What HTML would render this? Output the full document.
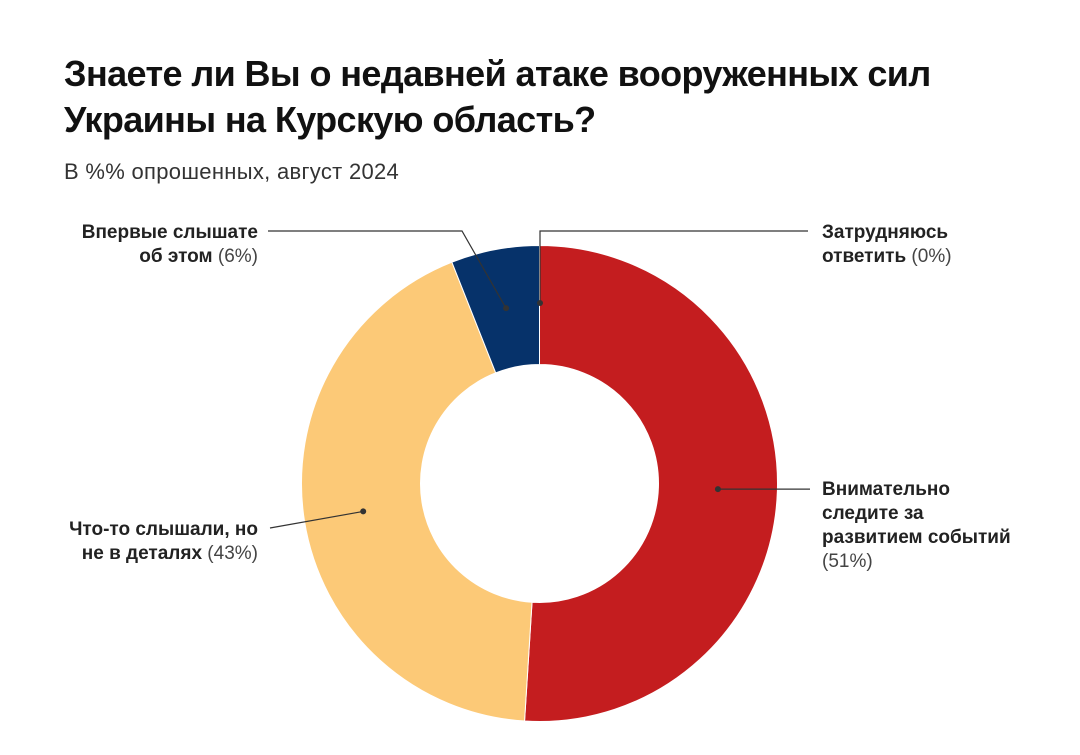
<!DOCTYPE html>
<html><head><meta charset="utf-8"><style>
body{margin:0;background:#fff;font-family:"Liberation Sans",Arial,sans-serif;}
#wrap{position:relative;width:1080px;height:755px;overflow:hidden;}
h1{position:absolute;left:64px;top:51px;margin:0;font-size:36px;line-height:46px;font-weight:bold;color:#111;letter-spacing:-0.6px;}
.sub{position:absolute;left:64px;top:159px;font-size:22px;color:#333;letter-spacing:0.3px;}
svg{position:absolute;left:0;top:0;}
</style></head><body>
<div id="wrap">
<h1>Знаете ли Вы о недавней атаке вооруженных сил<br>Украины на Курскую область?</h1>
<div class="sub">В %% опрошенных, август 2024</div>
<svg id="chart" width="1080" height="755"></svg>
</div>
<script>
const categories=["Внимательно следите за развитием событий","Что-то слышали, но не в деталях","Впервые слышате об этом","Затрудняюсь ответить"];
const values=[51,43,6,0];
const colors=["#c41d1f","#fcc977","#06326a","#888"];
const NS="http://www.w3.org/2000/svg";
const svg=document.getElementById('chart');
const cx=539.5,cy=483.5,R=238,r=119;
const total=values.reduce((a,b)=>a+b,0);
function pt(a,rad){return [cx+rad*Math.sin(a),cy-rad*Math.cos(a)];}
let acc=0;const mids=[];
values.forEach((v,i)=>{
  const a0=acc/total*2*Math.PI;acc+=v;const a1=acc/total*2*Math.PI;
  mids.push((a0+a1)/2);
  if(v<=0)return;
  const large=(a1-a0)>Math.PI?1:0;
  const p0=pt(a0,R),p1=pt(a1,R),q1=pt(a1,r),q0=pt(a0,r);
  const p=document.createElementNS(NS,'path');
  p.setAttribute('d',`M${p0}A${R},${R} 0 ${large} 1 ${p1}L${q1}A${r},${r} 0 ${large} 0 ${q0}Z`);
  p.setAttribute('fill',colors[i]);p.setAttribute('stroke','#fff');p.setAttribute('stroke-width','1');
  
  
  svg.appendChild(p);
});
const labels=[
 {lines:[["Внимательно",""],["следите за",""],["развитием событий",""],["","("+values[0]+"%)"]],x:822,y:495,anchor:"start",path:i=>{const d=pt(mids[0],(R+r)/2);return [d,[[810,d[1]]]]}},
 {lines:[["Что-то слышали, но",""],["не в деталях"," ("+values[1]+"%)"]],x:258,y:535,anchor:"end",path:i=>{const d=pt(mids[1],(R+r)/2);return [d,[[270,528]]]}},
 {lines:[["Впервые слышате",""],["об этом"," ("+values[2]+"%)"]],x:258,y:238,anchor:"end",path:i=>{const d=pt(mids[2],(R+r)/2);return [d,[[462,231],[268,231]]]}},
 {lines:[["Затрудняюсь",""],["ответить"," ("+values[3]+"%)"]],x:822,y:238,anchor:"start",path:i=>{const d=[cx+0.5,303];return [d,[[540,231],[808,231]]]}}
];
labels.forEach((L,i)=>{
  const [d,pts]=L.path(i);
  const pl=document.createElementNS(NS,'polyline');
  pl.setAttribute('points',[d,...pts].map(p=>p.join(',')).join(' '));
  pl.setAttribute('fill','none');pl.setAttribute('stroke','#333');pl.setAttribute('stroke-width','1.2');
  
  
  svg.appendChild(pl);
  const c=document.createElementNS(NS,'circle');
  c.setAttribute('cx',d[0]);c.setAttribute('cy',d[1]);c.setAttribute('r',3);c.setAttribute('fill','#333');
  
  
  svg.appendChild(c);
  const t=document.createElementNS(NS,'text');
  t.setAttribute('text-anchor',L.anchor);t.setAttribute('font-size','19');t.setAttribute('fill','#222');
  
  
  L.lines.forEach((ln,k)=>{
    const ts=document.createElementNS(NS,'tspan');
    ts.setAttribute('x',L.x);ts.setAttribute('y',L.y+k*24);
    if(ln[0]){const b=document.createElementNS(NS,'tspan');b.setAttribute('font-weight','bold');b.textContent=ln[0];ts.appendChild(b);}
    if(ln[1]){const n=document.createElementNS(NS,'tspan');n.setAttribute('fill','#444');n.textContent=ln[1];ts.appendChild(n);}
    t.appendChild(ts);
  });
  svg.appendChild(t);
});
</script>
</body></html>
